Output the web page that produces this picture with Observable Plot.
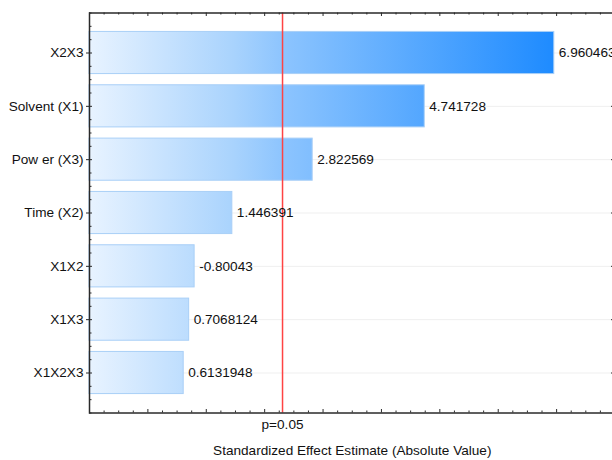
<!DOCTYPE html>
<html><head><meta charset="utf-8">
<script src="https://cdn.jsdelivr.net/npm/d3@7"></script>
<script src="https://cdn.jsdelivr.net/npm/@observablehq/plot@0.6"></script>
<style>body{margin:0;overflow:hidden;background:#fff}</style>
</head><body><div id="chart"></div>
<script>
const categories = ["X2X3", "Solvent (X1)", "Pow er (X3)", "Time (X2)", "X1X2", "X1X3", "X1X2X3"];
const effects = [6.960463, 4.741728, 2.822569, 1.446391, -0.80043, 0.7068124, 0.6131948];
const effectLabels = ["6.960463", "4.741728", "2.822569", "1.446391", "-0.80043", "0.7068124", "0.6131948"];
const pCritical = 2.306;
const pLabel = "p=0.05";
const xTitle = "Standardized Effect Estimate (Absolute Value)";
const xDomain = [-1, 8];

const rows = categories.map((c, i) => ({name: c, pos: i + 1, abs: Math.abs(effects[i]), label: effectLabels[i]}));
const yDomain = [0.25, categories.length + 0.75];
const xMajor = d3.range(xDomain[0], xDomain[1] + 0.001, 1);
const xMinor = d3.range(xDomain[0], xDomain[1] + 0.001, 0.25).filter(v => !Number.isInteger(v));
const yMajor = rows.map(d => d.pos);
const yMinor = d3.range(yDomain[0], yDomain[1] + 0.001, 0.25).filter(v => !Number.isInteger(v));

const W = 612, H = 460, mT = 12.5, mB = 47.5, mL = 89, mR = -2.5;
const fw = W - mL - mR, fh = H - mT - mB;
const half = 0.395;
const axisColor = "#2a2a2a";
const fs = 13.6;

const plot = Plot.plot({
  width: W, height: H,
  marginTop: mT, marginBottom: mB, marginLeft: mL, marginRight: mR,
  style: {fontFamily: "Liberation Sans, Arial, sans-serif", fontSize: fs + "px", color: "#111", background: "#fff", overflow: "hidden"},
  x: {domain: xDomain, label: null, axis: null},
  y: {domain: yDomain, reverse: true, label: null, axis: null},
  marks: [
    Plot.ruleY(yMajor, {stroke: "#efefef"}),
    Plot.rectX(rows, {x1: xDomain[0], x2: "abs", y1: d => d.pos - half, y2: d => d.pos + half,
      fill: "url(#barGrad)", stroke: "#a9cff7", strokeWidth: 1}),
    Plot.ruleX([pCritical], {stroke: "#ff4343", strokeWidth: 1.5}),
    Plot.text(rows, {x: "abs", y: "pos", text: "label", textAnchor: "start", dx: 4.5, fill: "#111", fontSize: fs}),
    Plot.text([pCritical], {x: d => d, text: () => pLabel, frameAnchor: "bottom", dy: 16, fill: "#111", fontSize: fs}),
    Plot.text([xTitle], {text: d => d, frameAnchor: "bottom", dy: 41.5, fill: "#111", fontSize: fs}),
    // x ticks (inward) bottom and top
    Plot.ruleX(xMajor, {insetTop: fh - 3.5, stroke: axisColor}),
    Plot.ruleX(xMinor, {insetTop: fh - 2, stroke: axisColor}),
    Plot.ruleX(xMajor, {insetBottom: fh - 3.5, stroke: axisColor}),
    Plot.ruleX(xMinor, {insetBottom: fh - 2, stroke: axisColor}),
    // y ticks inward left and right
    Plot.ruleY(yMajor, {insetRight: fw - 3, stroke: axisColor}),
    Plot.ruleY(yMinor, {insetRight: fw - 2.5, stroke: axisColor}),
    Plot.ruleY(yMajor, {insetLeft: fw - 3.5, stroke: axisColor}),
    Plot.ruleY(yMinor, {insetLeft: fw - 2, stroke: axisColor}),
    Plot.axisY(yMajor, {anchor: "left", tickSize: 3, tickPadding: 3, stroke: axisColor,
      tickFormat: i => categories[i - 1], fontSize: fs, fill: "#111", label: null}),
    Plot.frame({stroke: axisColor, strokeWidth: 1.5})
  ]
});

const xs = plot.scale("x");
const ns = "http://www.w3.org/2000/svg";
const svgEl = plot.tagName.toLowerCase() === "svg" ? plot : plot.querySelector("svg");
const defs = document.createElementNS(ns, "defs");
const grad = document.createElementNS(ns, "linearGradient");
grad.setAttribute("id", "barGrad");
grad.setAttribute("gradientUnits", "userSpaceOnUse");
grad.setAttribute("x1", xs.apply(xDomain[0]));
grad.setAttribute("x2", xs.apply(d3.max(rows, d => d.abs)));
grad.setAttribute("y1", 0);
grad.setAttribute("y2", 0);
[[0, "#e8f3ff"], [0.31, "#a9d3fd"], [0.42, "#8cc4fe"], [1, "#1e8bff"]].forEach(([o, c]) => {
  const s = document.createElementNS(ns, "stop");
  s.setAttribute("offset", o);
  s.setAttribute("stop-color", c);
  grad.appendChild(s);
});
defs.appendChild(grad);
svgEl.insertBefore(defs, svgEl.firstChild);
document.getElementById("chart").appendChild(plot);
</script>
</body></html>
